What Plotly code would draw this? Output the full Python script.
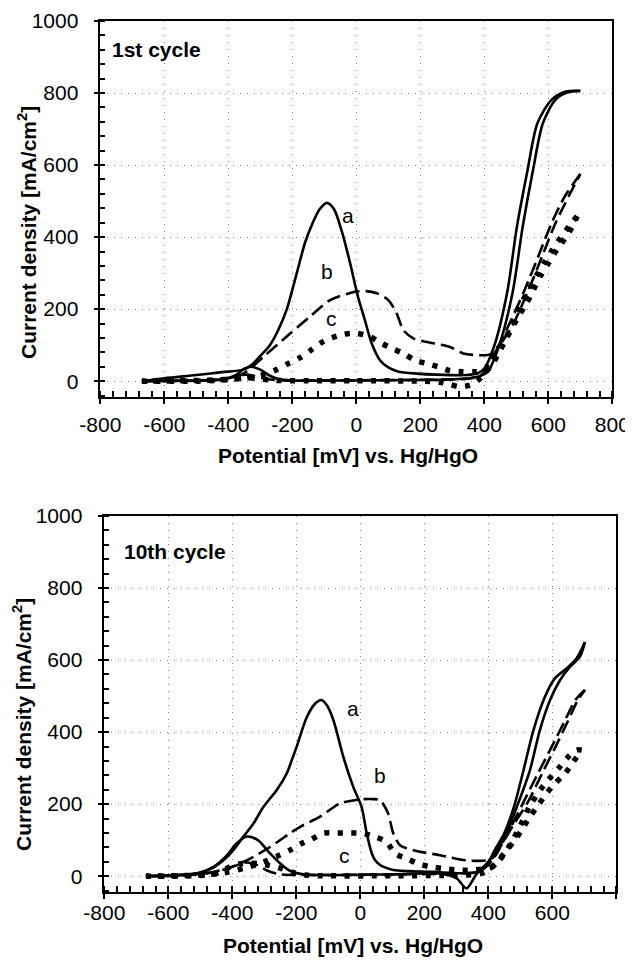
import plotly.graph_objects as go

# The page body has an 8px margin: size the figure so it ends at the window edge
OFF = 8
W, H = 633 - OFF, 962 - OFF

# ---------------- 1st cycle (top panel) ----------------
c1_a_fwd_x = [-670, -600, -500, -420, -380, -350, -330, -300, -270, -240, -200, 0, 200, 300, 350, 385, 410, 445, 488, 520, 552, 583, 622, 660, 700]
c1_a_fwd_y = [0, 1, 2, 4, 15, 35, 40, 32, 15, 5, 2, 2, 3, 5, 8, 14, 25, 95, 244, 429, 585, 716, 781, 802, 806]
c1_a_rev_x = [700, 655, 610, 566, 535, 502, 471, 430, 400, 380, 345, 250, 189, 130, 100, 74, 48, 27, 5, -20, -45, -70, -92, -114, -136, -160, -186, -217, -245, -270, -300, -321, -353, -420, -500, -600, -670]
c1_a_rev_y = [806, 804, 781, 716, 585, 429, 244, 95, 35, 22, 17, 18, 21, 27, 38, 58, 105, 169, 235, 330, 415, 478, 495, 478, 440, 385, 300, 200, 140, 100, 70, 50, 32, 25, 17, 8, 0]

c1_b_fwd_x = [-670, -500, -420, -380, -350, -320, -280, -230, -100, 100, 300, 360, 395, 424, 486, 538, 580, 622, 663, 700]
c1_b_fwd_y = [0, 1, 5, 12, 18, 15, 6, 2, 2, 3, 5, 8, 20, 67, 151, 253, 345, 438, 512, 575]
c1_b_rev_x = [700, 651, 610, 568, 526, 474, 445, 420, 387, 334, 293, 241, 178, 147, 126, 100, 64, 30, -4, -82, -145, -207, -291, -353, -420, -500, -670]
c1_b_rev_y = [575, 512, 438, 345, 253, 151, 100, 75, 72, 77, 95, 105, 119, 142, 188, 225, 244, 250, 248, 225, 179, 132, 67, 21, 6, 2, 0]

c1_c_fwd_x = [-670, -500, -420, -370, -340, -300, -250, -150, 0, 200, 260, 290, 320, 355, 380, 405, 435, 470, 506, 532, 553, 574, 600, 626, 652, 678, 690]
c1_c_fwd_y = [0, 0, 3, 8, 10, 6, 2, 1, 1, 0, -3, -8, -15, -11, 2, 25, 65, 120, 179, 216, 253, 290, 327, 364, 396, 433, 458]
c1_c_rev_x = [690, 665, 640, 612, 588, 562, 540, 515, 490, 460, 430, 400, 371, 334, 293, 256, 220, 183, 147, 111, 79, 43, 1, -40, -77, -113, -145, -176, -212, -249, -290, -350, -450, -670]
c1_c_rev_y = [458, 430, 400, 364, 330, 292, 255, 215, 165, 105, 55, 28, 26, 26, 29, 40, 49, 58, 77, 91, 105, 123, 133, 130, 120, 105, 84, 65, 49, 32, 18, 8, 3, 0]

# ---------------- 10th cycle (bottom panel) ----------------
c10_a_fwd_x = [-670, -600, -540, -500, -459, -420, -385, -355, -320, -282, -250, -220, -178, -100, 100, 250, 301, 332, 364, 395, 426, 457, 489, 530, 561, 593, 624, 655, 686, 702]
c10_a_fwd_y = [0, 2, 5, 10, 26, 55, 92, 110, 100, 63, 35, 15, 5, 3, 5, 7, -6, -34, 7, 35, 72, 119, 192, 294, 405, 489, 544, 581, 609, 650]
c10_a_rev_x = [702, 676, 645, 608, 577, 541, 510, 480, 450, 420, 395, 370, 311, 228, 150, 103, 75, 62, 46, 36, 20, 4, -22, -53, -84, -105, -122, -140, -167, -199, -215, -230, -261, -303, -334, -366, -390, -420, -459, -511, -600, -670]
c10_a_rev_y = [650, 605, 577, 549, 498, 405, 294, 192, 119, 72, 30, 12, 8, 12, 14, 17, 25, 31, 45, 63, 119, 192, 248, 331, 433, 475, 489, 480, 442, 359, 320, 285, 239, 192, 146, 109, 80, 50, 24, 7, 2, 0]

c10_b_fwd_x = [-670, -560, -480, -420, -380, -355, -320, -290, -250, -150, 100, 300, 370, 400, 440, 477, 527, 568, 610, 650, 680, 702]
c10_b_fwd_y = [0, 2, 8, 20, 32, 38, 30, 15, 5, 3, 5, 7, 12, 32, 85, 140, 211, 285, 359, 433, 489, 517]
c10_b_rev_x = [702, 672, 640, 598, 555, 513, 470, 440, 420, 395, 332, 249, 166, 124, 103, 87, 62, 40, -1, -63, -126, -188, -220, -282, -355, -420, -480, -560, -670]
c10_b_rev_y = [517, 489, 433, 359, 285, 211, 135, 85, 55, 44, 44, 58, 72, 86, 119, 174, 211, 214, 213, 202, 165, 137, 119, 81, 44, 20, 8, 2, 0]

c10_c_fwd_x = [-670, -500, -440, -410, -380, -350, -320, -287, -246, -210, -170, -100, 100, 250, 320, 380, 420, 457, 483, 504, 530, 556, 582, 608, 640, 666, 692]
c10_c_fwd_y = [0, 2, 10, 25, 34, 36, 35, 30, 21, 10, 3, 1, 1, 2, 3, 8, 32, 72, 100, 128, 165, 197, 230, 257, 285, 318, 350]
c10_c_rev_x = [692, 676, 645, 619, 587, 562, 530, 500, 470, 440, 410, 343, 301, 259, 218, 181, 145, 108, 82, 46, 4, -32, -74, -116, -152, -185, -220, -260, -300, -350, -420, -500, -670]
c10_c_rev_y = [350, 350, 327, 299, 267, 239, 195, 140, 90, 50, 25, 17, 17, 21, 26, 35, 49, 63, 95, 109, 119, 120, 120, 119, 103, 90, 72, 55, 40, 25, 10, 3, 0]

# curve labels
c1_labels = ["a", "b", "c"]
c1_label_x = [-25, -92, -77]
c1_label_y = [461, 304, 174]
c10_labels = ["a", "b", "c"]
c10_label_x = [-22, 62, -48]
c10_label_y = [466, 280, 58]

panel_titles = ["1st cycle", "10th cycle"]
x_title = "Potential [mV] vs. Hg/HgO"
y_title = "Current density [mA/cm<sup>2</sup>]"
x_tickvals = [-800, -600, -400, -200, 0, 200, 400, 600, 800]
x_ticktext = ["-800", "-600", "-400", "-200", "0", "200", "400", "600", "800"]
y_tickvals = [0, 200, 400, 600, 800, 1000]
y_ticktext = ["0", "200", "400", "600", "800", "1000"]

FONT = "Liberation Sans, Arial, sans-serif"
styles = {
    "a": dict(color="black", width=2.6, dash="solid"),
    "b": dict(color="black", width=2.6, dash="14px,6px"),
    "c": dict(color="black", width=5.5, dash="5px,8.5px"),
}

fig = go.Figure()

def add_curves(data, xa, ya):
    for key, (fx, fy, rx, ry) in data.items():
        for xs, ys in ((fx, fy), (rx, ry)):
            fig.add_trace(go.Scatter(
                x=xs, y=ys, mode="lines", line=dict(shape="spline", smoothing=0.8, **styles[key]),
                xaxis=xa, yaxis=ya, showlegend=False, hoverinfo="skip"))

add_curves({
    "c": (c1_c_fwd_x, c1_c_fwd_y, c1_c_rev_x, c1_c_rev_y),
    "b": (c1_b_fwd_x, c1_b_fwd_y, c1_b_rev_x, c1_b_rev_y),
    "a": (c1_a_fwd_x, c1_a_fwd_y, c1_a_rev_x, c1_a_rev_y),
}, "x", "y")
add_curves({
    "c": (c10_c_fwd_x, c10_c_fwd_y, c10_c_rev_x, c10_c_rev_y),
    "b": (c10_b_fwd_x, c10_b_fwd_y, c10_b_rev_x, c10_b_rev_y),
    "a": (c10_a_fwd_x, c10_a_fwd_y, c10_a_rev_x, c10_a_rev_y),
}, "x2", "y2")

# panel geometry (window pixels)
top_px = dict(l=100.3, r=612.3, t=21, b=397)
bot_px = dict(l=104.3, r=616.3, t=516, b=892)

def xdom(p):
    return [(p["l"] - OFF) / W, (p["r"] - OFF) / W]

def ydom(p):
    return [1 - (p["b"] - OFF) / H, 1 - (p["t"] - OFF) / H]

tickfont = dict(family=FONT, size=21, color="black")

def main_x(p, anchor, standoff):
    return dict(domain=xdom(p), anchor=anchor, range=[-800, 800], tickvals=x_tickvals, ticktext=x_ticktext,
                ticks="outside", ticklen=5, tickwidth=1.5, tickcolor="black", automargin=False,
                minor=dict(dtick=40, tick0=-800, ticks="inside", ticklen=6, tickwidth=1.5, tickcolor="black", showgrid=False),
                showline=True, linecolor="black", linewidth=1.5, mirror=True,
                showgrid=True, gridcolor="#888888", gridwidth=1, griddash="1px,6px",
                zeroline=False, tickfont=tickfont, ticklabelstandoff=standoff, fixedrange=True)

def main_y(p, anchor):
    return dict(domain=ydom(p), anchor=anchor, range=[-44, 1000], tickvals=y_tickvals, ticktext=y_ticktext,
                ticks="outside", ticklen=5, tickwidth=1.5, tickcolor="black", automargin=False,
                minor=dict(dtick=40, tick0=0, ticks="inside", ticklen=5, tickwidth=1.5, tickcolor="black", showgrid=False),
                showline=True, linecolor="black", linewidth=1.5, mirror=True,
                showgrid=True, gridcolor="#888888", gridwidth=1, griddash="1px,6px",
                zeroline=False, tickfont=tickfont, ticklabelstandoff=11, fixedrange=True)

def over_x(over, anchor):
    return dict(overlaying=over, anchor=anchor, range=[-800, 800], tickvals=x_tickvals,
                ticks="inside", ticklen=6, tickwidth=1.5, tickcolor="black", automargin=False,
                showticklabels=False, showgrid=False, zeroline=False, showline=False)

def over_y(over, anchor):
    return dict(overlaying=over, anchor=anchor, range=[-44, 1000], tickvals=y_tickvals,
                ticks="inside", ticklen=5, tickwidth=1.5, tickcolor="black", automargin=False,
                showticklabels=False, showgrid=False, zeroline=False, showline=False)

fig.update_layout(
    width=W, height=H, margin=dict(l=0, r=0, t=0, b=0, pad=0, autoexpand=False),
    paper_bgcolor="white", plot_bgcolor="white", showlegend=False,
    font=dict(family=FONT, color="black"),
    xaxis=main_x(top_px, "y", 3), yaxis=main_y(top_px, "x"),
    xaxis2=main_x(bot_px, "y2", -4), yaxis2=main_y(bot_px, "x2"),
    xaxis3=over_x("x", "y"), yaxis3=over_y("y", "x"),
    xaxis4=over_x("x2", "y2"), yaxis4=over_y("y2", "x2"),
)

ann = []
# curve labels
for t, x, y in zip(c1_labels, c1_label_x, c1_label_y):
    ann.append(dict(text=t, x=x, y=y, xref="x", yref="y", showarrow=False, xanchor="center", yanchor="middle",
                    font=dict(family=FONT, size=21, color="black")))
for t, x, y in zip(c10_labels, c10_label_x, c10_label_y):
    ann.append(dict(text=t, x=x, y=y, xref="x2", yref="y2", showarrow=False, xanchor="center", yanchor="middle",
                    font=dict(family=FONT, size=21, color="black")))

def P(px, py):
    return (px - OFF) / W, 1 - (py - OFF) / H

# panel titles
for t, (px, py) in zip(panel_titles, [(110, 49), (122, 551)]):
    x, y = P(px, py)
    ann.append(dict(text="<b>%s</b>" % t, x=x, y=y, xref="paper", yref="paper", xanchor="left",
                    yanchor="middle", showarrow=False, font=dict(family=FONT, size=21, color="black")))
# axis titles
for (px, py) in [(348, 455), (353, 945)]:
    x, y = P(px, py)
    ann.append(dict(text="<b>%s</b>" % x_title, x=x, y=y, xref="paper", yref="paper",
                    xanchor="center", yanchor="middle",
                    showarrow=False, font=dict(family=FONT, size=21, color="black")))
for (px, py) in [(27, 233), (22, 725)]:
    x, y = P(px, py)
    ann.append(dict(text="<b>%s</b>" % y_title, x=x, y=y, xref="paper", yref="paper", textangle=-90,
                    xanchor="center", yanchor="middle",
                    showarrow=False, font=dict(family=FONT, size=21, color="black")))
fig.update_layout(annotations=ann)

fig.write_html("out.html")
